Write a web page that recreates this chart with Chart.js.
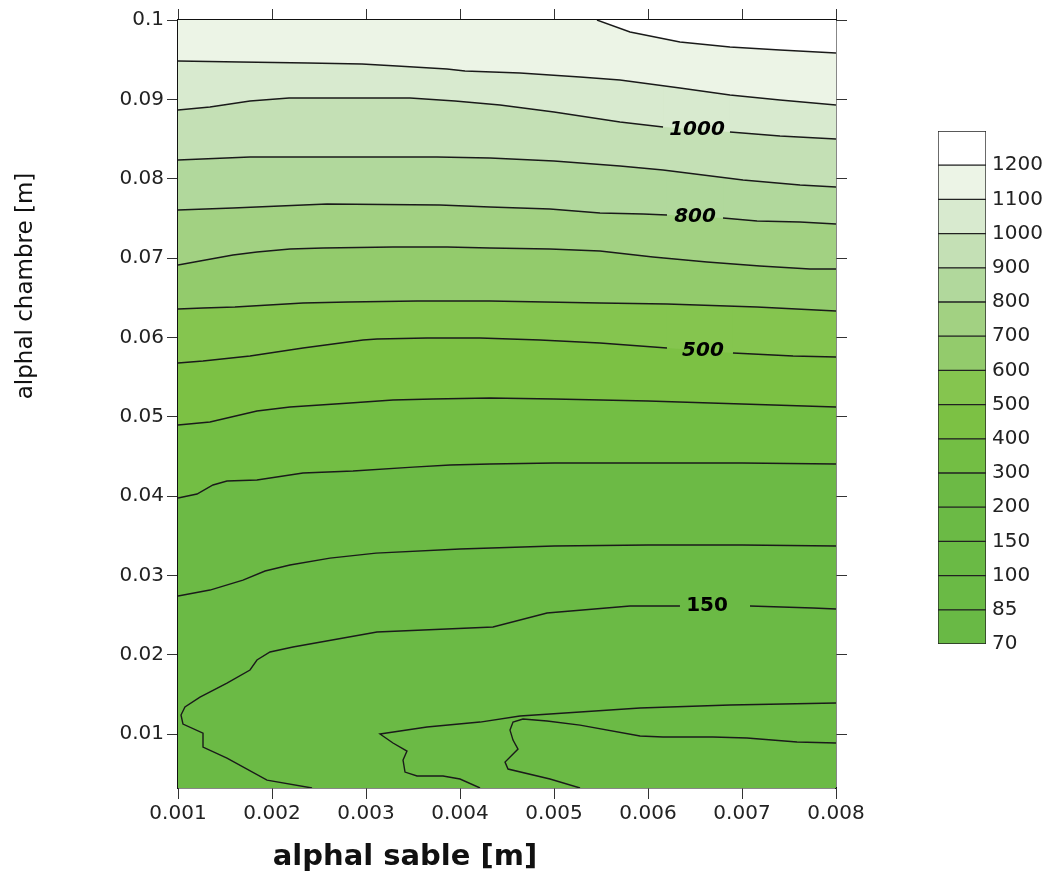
<!DOCTYPE html>
<html>
<head>
<meta charset="utf-8">
<script src="https://cdn.jsdelivr.net/npm/chart.js@4.4.0/dist/chart.umd.min.js"></script>
<style>
  body { margin: 0; background: #fff; }
  #main { position: absolute; left: 0; top: 0; }
  #bar { position: absolute; left: 938px; top: 113px; }
</style>
</head>
<body>
<canvas id="main" width="1055" height="873"></canvas>
<canvas id="bar" width="117" height="549"></canvas>
<script>
// axes
var xTicks = [0.001, 0.002, 0.003, 0.004, 0.005, 0.006, 0.007, 0.008];
var xTickLabels = ['0.001', '0.002', '0.003', '0.004', '0.005', '0.006', '0.007', '0.008'];
var yTicks = [0.01, 0.02, 0.03, 0.04, 0.05, 0.06, 0.07, 0.08, 0.09, 0.1];
var yTickLabels = ['0.01', '0.02', '0.03', '0.04', '0.05', '0.06', '0.07', '0.08', '0.09', '0.1'];

// colour scale (lower bound of each band, bottom to top)
var bandLower = [70, 85, 100, 150, 200, 300, 400, 500, 600, 700, 800, 900, 1000, 1100, 1200];
var bandColors = ['#69b945', '#6aba45', '#6aba45', '#6bba45', '#6cba45', '#73be44', '#7cc144', '#85c54f',
                  '#93cb6c', '#a2d182', '#b1d89c', '#c4e0b5', '#d8eacf', '#ecf4e6', '#ffffff'];

// contour lines [x, y]
var c1200 = [[0.005457, 0.1], [0.005809, 0.09849], [0.00634, 0.09723], [0.006872, 0.0966], [0.007404, 0.09622], [0.008, 0.09584]];
var c1100 = [[0.001, 0.09483], [0.00166, 0.09471], [0.002383, 0.09458], [0.002957, 0.09445], [0.00333, 0.0942], [0.003862, 0.09382],
             [0.004053, 0.09357], [0.004638, 0.09332], [0.005277, 0.09282], [0.005702, 0.09244], [0.00634, 0.09143], [0.006872, 0.09055],
             [0.007404, 0.08992], [0.008, 0.08929]];
var c1000 = [[0.001, 0.08866], [0.00134, 0.08903], [0.001766, 0.08979], [0.002181, 0.09017], [0.003468, 0.09017], [0.003947, 0.08979],
             [0.004426, 0.08929], [0.005, 0.0884], [0.005702, 0.08714], [0.00616, 0.08651], [0.006872, 0.08588], [0.007404, 0.08538], [0.008, 0.085]];
var c900 = [[0.001, 0.08235], [0.001766, 0.08273], [0.003755, 0.08273], [0.004319, 0.08261], [0.005, 0.08223], [0.005702, 0.0816],
            [0.00616, 0.08109], [0.007011, 0.07983], [0.007617, 0.0792], [0.008, 0.07895]];
var c800 = [[0.001, 0.07605], [0.001585, 0.0763], [0.002085, 0.07655], [0.002585, 0.07681], [0.003787, 0.07668], [0.004319, 0.07643],
            [0.004957, 0.07618], [0.005489, 0.07567], [0.005947, 0.07555], [0.006202, 0.07542], [0.006798, 0.07504], [0.00716, 0.07466],
            [0.007617, 0.07454], [0.008, 0.07429]];
var c700 = [[0.001, 0.06912], [0.001234, 0.06962], [0.001585, 0.07038], [0.00184, 0.07076], [0.002191, 0.07113], [0.002543, 0.07126],
            [0.003287, 0.07139], [0.003862, 0.07139], [0.004319, 0.07126], [0.004957, 0.07113], [0.005489, 0.07088], [0.006053, 0.07013],
            [0.006628, 0.0695], [0.007191, 0.06899], [0.007723, 0.06861], [0.008, 0.06861]];
var c600 = [[0.001, 0.06357], [0.001266, 0.0637], [0.001606, 0.06382], [0.00233, 0.06433], [0.002809, 0.06445], [0.003543, 0.06458],
            [0.004319, 0.06458], [0.005489, 0.06433], [0.006202, 0.0642], [0.00716, 0.06382], [0.008, 0.06332]];
var c500 = [[0.001, 0.05677], [0.001266, 0.05702], [0.001766, 0.05765], [0.00233, 0.05866], [0.002968, 0.05966], [0.003117, 0.05979],
            [0.003649, 0.05992], [0.004213, 0.05992], [0.004851, 0.05966], [0.005489, 0.05929], [0.006202, 0.05866], [0.006904, 0.05803],
            [0.007543, 0.05765], [0.008, 0.05752]];
var c400 = [[0.001, 0.04895], [0.00134, 0.04933], [0.00184, 0.05071], [0.002191, 0.05122], [0.00283, 0.05172], [0.003287, 0.0521],
            [0.003713, 0.05223], [0.004319, 0.05235], [0.005, 0.05223], [0.006, 0.05197], [0.007, 0.0516], [0.008, 0.05122]];
var c300 = [[0.001, 0.03975], [0.001202, 0.04025], [0.001372, 0.04139], [0.001521, 0.04189], [0.00184, 0.04202], [0.00233, 0.0429],
            [0.002862, 0.04315], [0.0035, 0.04365], [0.003894, 0.04391], [0.004319, 0.04403], [0.005, 0.04416], [0.006, 0.04416],
            [0.007, 0.04416], [0.008, 0.04403]];
var c200 = [[0.001, 0.0274], [0.00134, 0.02815], [0.001691, 0.02941], [0.001926, 0.03055], [0.002191, 0.0313], [0.002617, 0.03218],
            [0.003106, 0.03281], [0.004, 0.03332], [0.005, 0.0337], [0.006, 0.03382], [0.007, 0.03382], [0.008, 0.0337]];
var c150 = [[0.008, 0.02576], [0.007755, 0.02589], [0.007085, 0.02614], [0.00634, 0.02614], [0.005809, 0.02614], [0.004926, 0.02525],
            [0.004351, 0.02349], [0.003117, 0.02286], [0.002223, 0.02097], [0.001979, 0.02034], [0.00184, 0.01933], [0.001766, 0.01807],
            [0.001521, 0.01643], [0.001234, 0.01466], [0.001074, 0.01341], [0.001032, 0.0124], [0.001053, 0.01126], [0.001266, 0.01012],
            [0.001266, 0.00836], [0.001521, 0.00697], [0.001947, 0.0042], [0.002426, 0.0032]];
var c100 = [[0.008, 0.01391], [0.006872, 0.01366], [0.005915, 0.01328], [0.005277, 0.01278], [0.004638, 0.01227], [0.004213, 0.01151],
            [0.003649, 0.01088], [0.003149, 0.01], [0.003287, 0.00887], [0.003436, 0.00786], [0.003394, 0.00672], [0.003415, 0.00521],
            [0.003543, 0.00471], [0.003819, 0.00471], [0.004, 0.00433], [0.004213, 0.0032]];
var c85 = [[0.008, 0.00887], [0.007585, 0.00899], [0.007053, 0.0095], [0.006691, 0.00962], [0.00616, 0.00962], [0.005915, 0.00975],
           [0.005277, 0.01113], [0.004926, 0.01164], [0.00467, 0.01189], [0.004564, 0.01151], [0.004532, 0.0105], [0.004564, 0.00924],
           [0.004617, 0.00811], [0.004479, 0.00647], [0.004511, 0.00559], [0.004957, 0.00433], [0.005277, 0.0032]];

// labels on the lines
var lineLabels = ['1000', '800', '500', '150'];
var lineLabelX = [0.006521, 0.0065, 0.006585, 0.006628];
var lineLabelY = [0.08613, 0.07517, 0.05828, 0.02614];
var lineLabelItalic = [true, true, true, false];
var labelGaps = { 1000: [0.00616, 0.006872], 800: [0.006202, 0.006798], 500: [0.006202, 0.006904], 150: [0.00634, 0.007085] };

var LINE = '#1a1a1a';

function inGap(ctx, gap) {
    if (!gap) return false;
    var a = ctx.p0.parsed.x, b = ctx.p1.parsed.x;
    return Math.min(a, b) >= gap[0] - 1e-9 && Math.max(a, b) <= gap[1] + 1e-9;
}

function contour(level, pts, fillColor) {
    var gap = labelGaps[level];
    return {
        label: String(level),
        data: pts.map(function (p) { return { x: p[0], y: p[1] }; }),
        borderColor: LINE,
        borderWidth: 1.4,
        pointRadius: 0,
        tension: 0,
        fill: fillColor ? 'end' : false,
        backgroundColor: fillColor || 'rgba(0,0,0,0)',
        segment: { borderColor: function (ctx) { return inGap(ctx, gap) ? 'rgba(0,0,0,0)' : LINE; } }
    };
}

function band(level) { return bandColors[bandLower.indexOf(level)]; }

// index 0 is drawn last -> highest contour first
var datasets = [
    contour(1200, c1200, band(1200)),
    contour(1100, c1100, band(1100)),
    contour(1000, c1000, band(1000)),
    contour(900, c900, band(900)),
    contour(800, c800, band(800)),
    contour(700, c700, band(700)),
    contour(600, c600, band(600)),
    contour(500, c500, band(500)),
    contour(400, c400, band(400)),
    contour(300, c300, band(300)),
    contour(200, c200, band(200)),
    contour(150, c150, null),
    contour(100, c100, null),
    contour(85, c85, null)
];

var plotBackground = {
    id: 'plotBackground',
    beforeDatasetsDraw: function (chart) {
        var a = chart.chartArea, ctx = chart.ctx;
        ctx.save();
        ctx.fillStyle = band(150);
        ctx.fillRect(a.left, a.top, a.right - a.left, a.bottom - a.top);
        ctx.restore();
    }
};

var lineLabelPlugin = {
    id: 'lineLabels',
    afterDatasetsDraw: function (chart) {
        var ctx = chart.ctx, sx = chart.scales.x, sy = chart.scales.y;
        ctx.save();
        ctx.fillStyle = '#000';
        ctx.textAlign = 'center';
        ctx.textBaseline = 'middle';
        for (var i = 0; i < lineLabels.length; i++) {
            ctx.font = (lineLabelItalic[i] ? 'italic ' : '') + 'bold 20px "DejaVu Sans"';
            ctx.fillText(lineLabels[i], sx.getPixelForValue(lineLabelX[i]), sy.getPixelForValue(lineLabelY[i]));
        }
        ctx.restore();
    }
};

var axisTitles = {
    id: 'axisTitles',
    afterDraw: function (chart) {
        var ctx = chart.ctx;
        ctx.save();
        ctx.fillStyle = '#111';
        ctx.textAlign = 'center';
        ctx.textBaseline = 'middle';
        ctx.font = 'bold 29px "DejaVu Sans"';
        ctx.fillText('alphal sable [m]', 405, 857);
        ctx.translate(26, 286);
        ctx.rotate(-Math.PI / 2);
        ctx.font = '23px "DejaVu Sans"';
        ctx.fillText('alphal chambre [m]', 0, 0);
        ctx.restore();
    }
};

function axis(pos, ticks, labels, showLabels, size) {
    var horiz = pos === 'top' || pos === 'bottom';
    return {
        type: 'linear',
        axis: horiz ? 'x' : 'y',
        position: pos,
        min: horiz ? 0.001 : 0.0032,
        max: horiz ? 0.008 : 0.1,
        z: 1,
        afterBuildTicks: function (s) { s.ticks = ticks.map(function (v) { return { value: v }; }); },
        afterFit: function (s) { if (horiz) s.height = size; else s.width = size; },
        ticks: {
            display: showLabels,
            autoSkip: false,
            maxRotation: 0,
            padding: 3,
            color: '#222',
            font: { family: 'DejaVu Sans', size: 20 },
            callback: function (v, i) { return labels[i]; }
        },
        grid: { drawOnChartArea: false, drawTicks: true, tickLength: 11, color: '#333', lineWidth: 1 },
        border: { display: true, color: '#111', width: 1.5 }
    };
}

new Chart(document.getElementById('main').getContext('2d'), {
    type: 'line',
    data: { datasets: datasets },
    options: {
        responsive: false,
        animation: false,
        layout: { padding: 0 },
        plugins: { legend: { display: false }, tooltip: { enabled: false } },
        scales: {
            x: axis('bottom', xTicks, xTickLabels, true, 85),
            x2: axis('top', xTicks, xTickLabels, false, 20),
            y: axis('left', yTicks, yTickLabels, true, 178),
            y2: axis('right', yTicks, yTickLabels, false, 219)
        }
    },
    plugins: [plotBackground, lineLabelPlugin, axisTitles]
});

// colour bar
var barTicks = [0, 1, 2, 3, 4, 5, 6, 7, 8, 9, 10, 11, 12, 13, 14, 15];
var barLabels = ['70', '85', '100', '150', '200', '300', '400', '500', '600', '700', '800', '900', '1000', '1100', '1200', ''];

new Chart(document.getElementById('bar').getContext('2d'), {
    type: 'bar',
    data: {
        labels: [''],
        datasets: bandColors.map(function (c, i) {
            return {
                label: String(bandLower[i]),
                data: [1],
                backgroundColor: c,
                borderColor: '#222',
                borderWidth: 1,
                borderSkipped: false,
                barPercentage: 1,
                categoryPercentage: 1
            };
        })
    },
    options: {
        responsive: false,
        animation: false,
        layout: { padding: { top: 10, bottom: 10, left: 0, right: 0 } },
        plugins: { legend: { display: false }, tooltip: { enabled: false } },
        scales: {
            x: { display: false, stacked: true },
            y: {
                stacked: true,
                position: 'right',
                min: 0,
                max: 15,
                afterBuildTicks: function (s) { s.ticks = barTicks.map(function (v) { return { value: v }; }); },
                afterFit: function (s) { s.width = 69; },
                ticks: {
                    padding: 6,
                    color: '#222',
                    font: { family: 'DejaVu Sans', size: 20 },
                    callback: function (v, i) { return barLabels[i]; }
                },
                grid: { display: false, drawTicks: false },
                border: { display: false }
            }
        }
    }
});
</script>
</body>
</html>
